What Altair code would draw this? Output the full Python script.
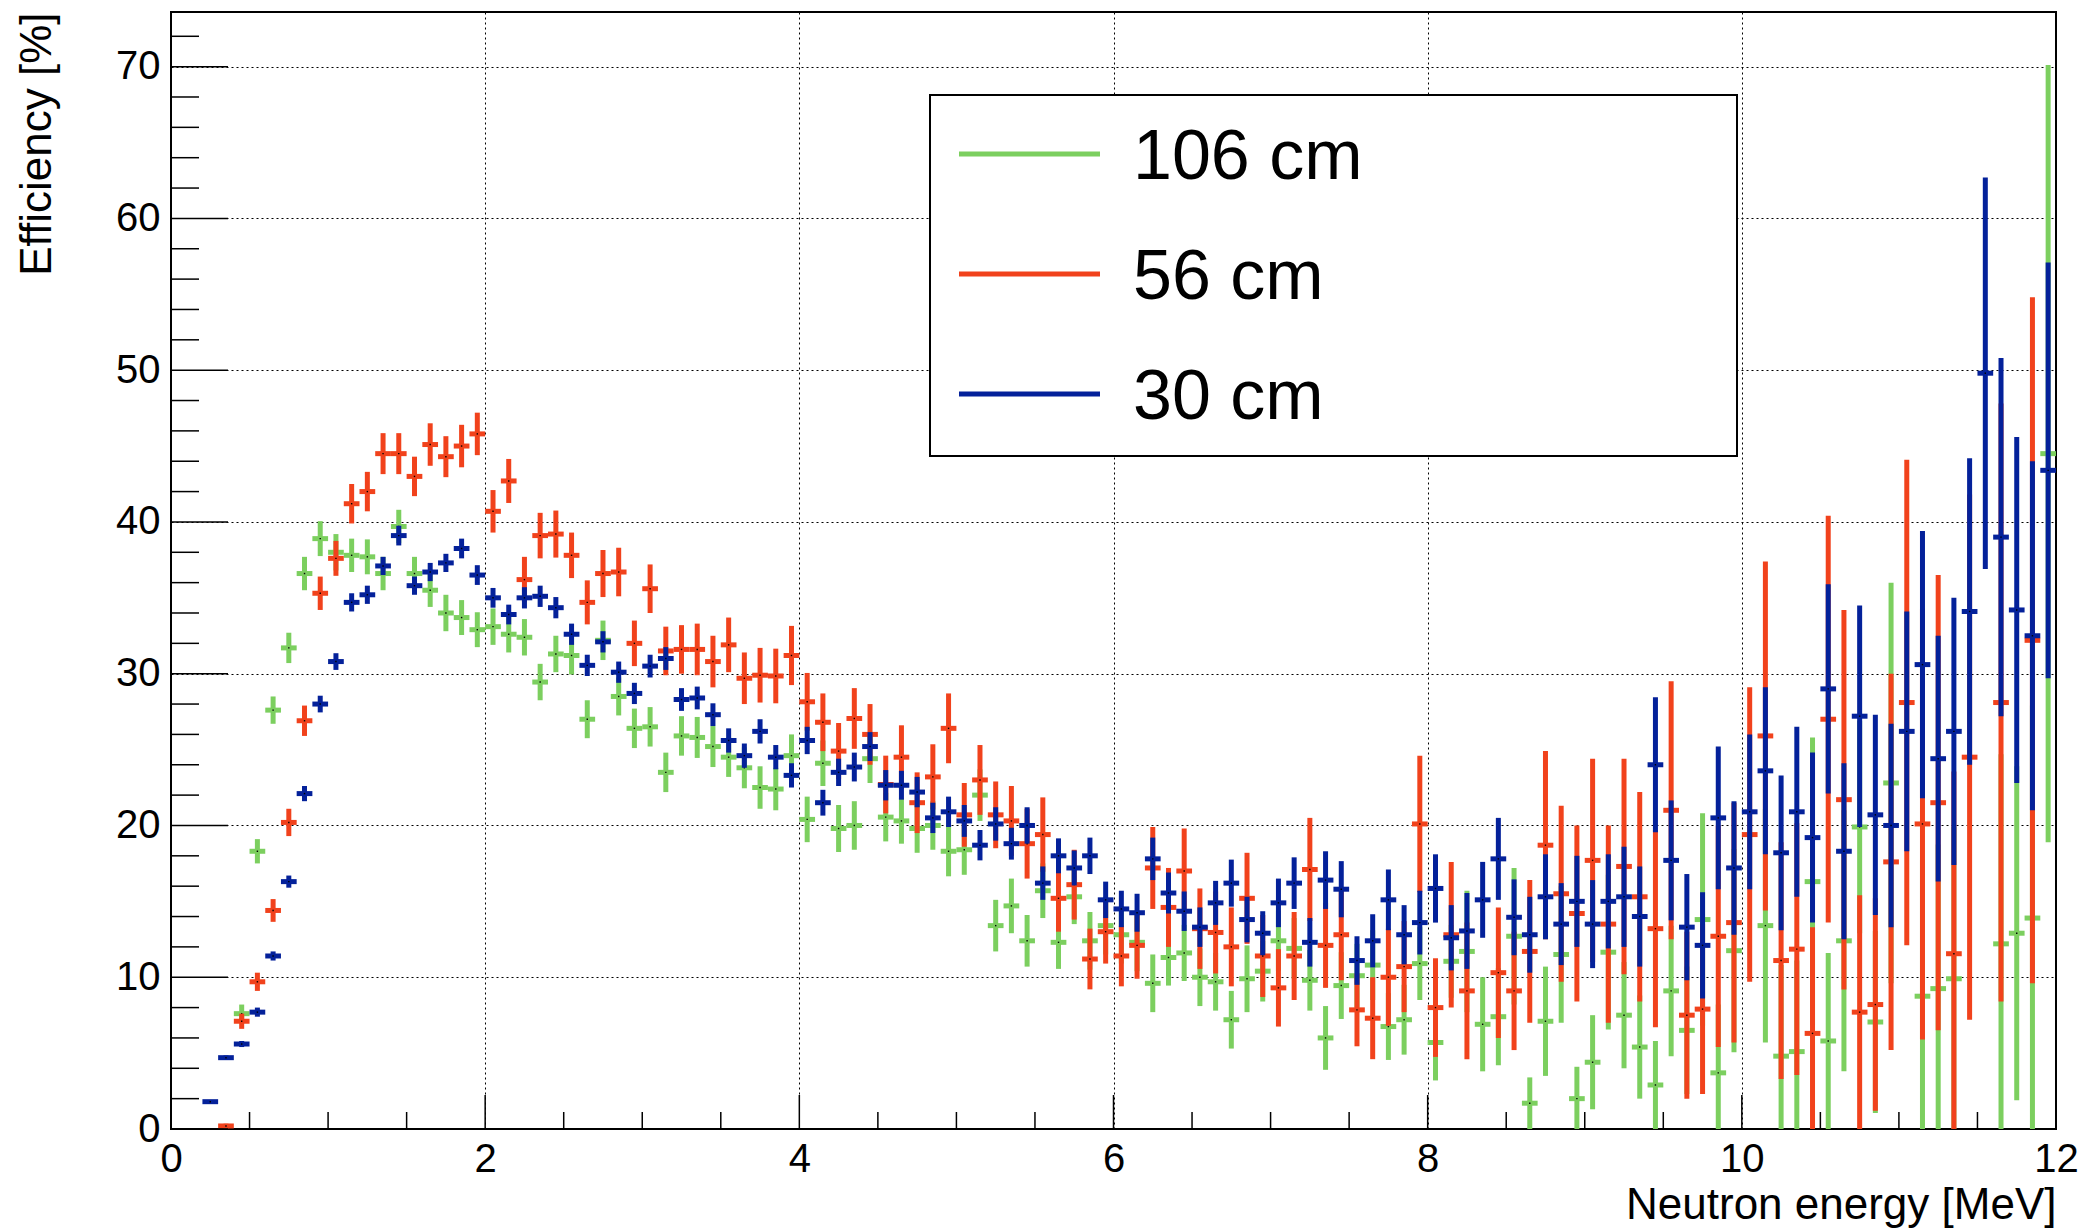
import altair as alt
import pandas as pd

# ---------------- data ----------------
SERIES = ["106 cm", "56 cm", "30 cm"]
COLORS = ["#7ccf5f", "#f1421c", "#04219a"]

# bin centres (0.1 MeV bins from 0 to 12 MeV)
CENTERS = [round(0.05 + 0.1 * i, 2) for i in range(120)]

N = None
Y_106 = [N, N, N, N, 7.6, 18.3, 27.6, 31.7, 36.6, 38.9,
         38.0, 37.8, 37.7, 36.6, 39.7, 36.6, 35.5, 34.0, 33.7, 32.9,
         33.1, 32.6, 32.4, 29.45, 31.3, 31.2, 27.0, 32.2, 28.5, 26.4,
         26.5, 23.5, 25.9, 25.8, 25.2, 24.5, 23.8, 22.5, 22.4, 24.6,
         20.4, 24.1, 19.8, 20.0, 24.4, 20.55, 20.3, 19.8, 20.0, 18.3,
         18.4, 22.0, 13.4, 14.7, 12.4, 15.7, 12.3, 15.3, 12.4, 13.4,
         12.8, 12.3, 9.6, 11.3, 11.6, 10.0, 9.7, 7.2, 9.9, 10.4,
         12.4, 11.9, 9.8, 6.0, 9.45, 10.1, 10.8, 6.75, 7.2, 10.9,
         5.7, 11.05, 11.7, 6.9, 7.4, 12.7, 1.7, 7.1, 11.5, 2.0,
         4.4, 11.65, 7.5, 5.4, 2.9, 9.1, 6.5, 13.8, 3.7, 11.75,
         N, 13.4, 4.8, 5.1, 16.3, 5.8, 12.4, 19.9, 7.05, 22.8,
         N, 8.75, 9.25, 9.9, N, N, 12.2, 12.9, 13.9, 44.5]
E_106 = [N, N, N, N, 0.6, 0.8, 0.9, 1.0, 1.1, 1.15,
         1.2, 1.1, 1.15, 1.1, 1.1, 1.1, 1.1, 1.2, 1.15, 1.15,
         1.2, 1.2, 1.2, 1.2, 1.2, 1.25, 1.25, 1.3, 1.25, 1.3,
         1.3, 1.3, 1.3, 1.35, 1.35, 1.3, 1.35, 1.4, 1.4, 1.4,
         1.5, 1.5, 1.55, 1.6, 1.6, 1.6, 1.5, 1.6, 1.6, 1.65,
         1.65, 1.7, 1.7, 1.8, 1.7, 1.8, 1.75, 1.8, 1.9, 1.9,
         1.9, 1.9, 1.9, 1.85, 1.85, 1.9, 1.9, 1.9, 2.2, 2.0,
         2.0, 2.0, 2.0, 2.1, 2.2, 2.1, 2.3, 2.2, 2.3, 2.4,
         2.5, 2.4, 4.0, 3.1, 3.2, 4.5, 1.7, 3.6, 4.5, 2.1,
         3.1, 5.1, 3.5, 3.4, 2.9, 4.3, 4.2, 7.0, 4.5, 6.7,
         N, 7.7, 6.0, 6.0, 9.5, 5.8, 8.6, 7.0, 6.0, 13.2,
         N, 9.0, 9.5, 10.0, N, N, 12.5, 11.0, 14.0, 25.6]

Y_56 = [N, N, N, 0.2, 7.1, 9.7, 14.4, 20.2, 26.9, 35.3,
        37.6, 41.2, 42.0, 44.5, 44.5, 43.0, 45.1, 44.3, 45.0, 45.8,
        40.7, 42.7, 36.2, 39.1, 39.2, 37.8, 34.7, 36.6, 36.7, 32.0,
        35.6, 31.5, 31.6, 31.6, 30.8, 31.9, 29.7, 29.9, 29.85, 31.2,
        28.15, 26.8, 24.9, 27.05, 26.0, 22.7, 24.5, 21.5, 23.2, 26.4,
        20.7, 23.0, 20.7, 20.3, 18.8, 19.4, 15.2, 16.1, 11.2, 13.0,
        11.4, 12.1, 17.2, 14.6, 17.0, 13.2, 12.95, 12.0, 15.2, 11.4,
        9.3, 11.4, 17.1, 12.1, 12.8, 7.85, 7.3, 10.0, 10.7, 20.1,
        8.0, 12.8, 9.1, N, 10.3, 9.1, 11.7, 18.7, 15.5, 14.2,
        17.7, 13.5, 17.3, 15.3, 13.2, 21.0, 7.5, 7.9, 12.7, 13.6,
        19.4, 25.9, 11.1, 11.85, 6.3, 27.0, 21.7, 7.7, 8.2, 17.6,
        28.1, 20.1, 21.5, 11.55, 24.5, N, 28.1, N, 32.2, N]
E_56 = [N, N, N, 0.15, 0.5, 0.6, 0.75, 0.9, 1.0, 1.1,
        1.15, 1.3, 1.3, 1.35, 1.35, 1.3, 1.4, 1.35, 1.4, 1.4,
        1.4, 1.45, 1.5, 1.5, 1.55, 1.5, 1.45, 1.55, 1.6, 1.5,
        1.6, 1.6, 1.6, 1.7, 1.7, 1.8, 1.7, 1.8, 1.8, 1.95,
        1.9, 1.9, 1.85, 2.0, 2.0, 1.9, 2.1, 2.0, 2.15, 2.3,
        2.1, 2.3, 2.2, 2.3, 2.3, 2.45, 2.2, 2.3, 2.0, 2.1,
        2.0, 2.2, 2.7, 2.6, 2.8, 2.65, 2.7, 2.6, 3.0, 2.7,
        2.55, 2.9, 3.4, 2.8, 3.0, 2.4, 2.7, 3.2, 3.0, 4.5,
        3.25, 4.8, 4.5, N, 4.3, 3.9, 4.7, 6.2, 5.8, 5.8,
        6.7, 6.5, 7.1, 6.9, 6.5, 8.5, 5.5, 5.6, 7.3, 7.9,
        9.7, 11.5, 7.8, 8.3, 7.0, 13.4, 12.5, 7.7, 7.0, 12.4,
        16.0, 14.2, 15.0, 12.0, 17.3, N, 19.7, N, 22.6, N]

Y_30 = [N, N, 1.8, 4.7, 5.6, 7.7, 11.4, 16.3, 22.1, 28.0,
        30.8, 34.7, 35.2, 37.1, 39.1, 35.8, 36.7, 37.3, 38.25, 36.5,
        35.0, 33.9, 35.0, 35.1, 34.35, 32.6, 30.55, 32.1, 30.1, 28.7,
        30.5, 31.0, 28.3, 28.4, 27.3, 25.6, 24.6, 26.2, 24.5, 23.3,
        25.6, 21.5, 23.5, 23.85, 25.2, 22.65, 22.65, 22.2, 20.5, 20.9,
        20.3, 18.7, 20.1, 18.8, 20.0, 16.2, 18.0, 17.2, 18.0, 15.1,
        14.5, 14.25, 17.8, 15.55, 14.35, 13.3, 14.9, 16.2, 13.8, 12.9,
        14.9, 16.2, 12.3, 16.4, 15.8, 11.1, 12.4, 15.1, 12.8, 13.6,
        15.85, 12.6, 13.05, 15.1, 17.8, 13.95, 12.8, 15.3, 13.5, 15.0,
        13.5, 15.0, 15.3, 14.0, 24.0, 17.7, 13.3, 12.1, 20.5, 17.2,
        20.9, 23.6, 18.2, 20.9, 19.2, 29.0, 18.3, 27.2, 20.7, 20.0,
        26.2, 30.6, 24.4, 26.2, 34.1, 49.8, 39.0, 34.2, 32.5, 43.4]
E_30 = [N, N, 0.1, 0.15, 0.2, 0.3, 0.3, 0.4, 0.5, 0.55,
        0.55, 0.6, 0.6, 0.6, 0.65, 0.6, 0.6, 0.6, 0.65, 0.65,
        0.65, 0.65, 0.7, 0.7, 0.7, 0.7, 0.7, 0.7, 0.7, 0.7,
        0.75, 0.75, 0.75, 0.75, 0.75, 0.8, 0.8, 0.8, 0.8, 0.8,
        0.9, 0.85, 0.9, 0.95, 0.95, 1.0, 0.95, 1.0, 1.0, 1.0,
        1.05, 1.0, 1.1, 1.05, 1.2, 1.1, 1.15, 1.15, 1.2, 1.2,
        1.2, 1.25, 1.4, 1.35, 1.3, 1.3, 1.45, 1.55, 1.5, 1.45,
        1.6, 1.7, 1.6, 1.9, 1.85, 1.6, 1.75, 2.0, 1.95, 2.1,
        2.25, 2.15, 2.5, 2.5, 2.7, 2.5, 2.5, 2.8, 2.7, 3.0,
        2.9, 3.1, 3.3, 3.3, 4.45, 3.95, 3.5, 3.5, 4.7, 4.4,
        5.1, 5.5, 5.1, 5.6, 5.6, 6.9, 5.8, 7.3, 6.6, 6.7,
        7.9, 8.8, 8.1, 8.8, 10.1, 12.9, 11.8, 11.4, 11.5, 13.7]

X_LABELS = [0, 2, 4, 6, 8, 10, 12]
Y_LABELS = [0, 10, 20, 30, 40, 50, 60, 70]
X_MINOR = [0.5 * i for i in range(25)]
Y_MINOR = [2 * i for i in range(37)]

X_TITLE = "Neutron energy [MeV]"
Y_TITLE = "Efficiency [%]"

# ---------------- table ----------------
rows = []
for name, ys, es in zip(SERIES, [Y_106, Y_56, Y_30], [E_106, E_56, E_30]):
    for c, v, e in zip(CENTERS, ys, es):
        if v is None:
            continue
        rows.append(dict(series=name, x=c, lo=round(c - 0.05, 3), hi=round(c + 0.05, 3),
                         y=v, ylo=v - e, yhi=v + e))
df = pd.DataFrame(rows)

# ---------------- layout ----------------
W, H = 1885, 1117
FONT = "Liberation Sans"

XS = alt.Scale(domain=[0, 12], nice=False, zero=False)
YS = alt.Scale(domain=[0, 73.6], nice=False, zero=False)
XA = alt.Axis(values=X_LABELS, format="d", labelPadding=10, labelFlush=False,
              labelOverlap=False, titleX=W, titleY=89, titleAlign="right",
              titleBaseline="alphabetic", titleAnchor="end")
YA = alt.Axis(values=Y_LABELS, format="d", labelPadding=11, labelOverlap=False,
              titleAngle=270, titleX=-121, titleY=0, titleAlign="right",
              titleBaseline="alphabetic", titleAnchor="end")


def X(field):
    return alt.X(field, type="quantitative", scale=XS, axis=XA, title=X_TITLE)


def Y(field):
    return alt.Y(field, type="quantitative", scale=YS, axis=YA, title=Y_TITLE)


layers = []
for name, col in zip(SERIES, COLORS):
    base = alt.Chart(df[df.series == name])
    layers.append(base.mark_rule(color=col, strokeWidth=5, clip=True).encode(
        x=X("x"), y=Y("ylo"), y2="yhi"))
    layers.append(base.mark_rule(color=col, strokeWidth=5, clip=True).encode(
        x=X("lo"), x2="hi", y=Y("y")))
    layers.append(base.mark_square(size=2, color="black", opacity=1, clip=True).encode(
        x=X("x"), y=Y("y")))

# inward ticks (ROOT style)
xt = pd.DataFrame({"t": X_MINOR})
xt["len"] = [34 if (t % 2 == 0) else 17 for t in X_MINOR]
yt = pd.DataFrame({"t": Y_MINOR})
layers.append(alt.Chart(xt[xt.len == 17]).mark_rule(color="black", strokeWidth=1.5).encode(
    x=X("t"), y=alt.value(H), y2=alt.value(H - 17)))
layers.append(alt.Chart(xt[xt.len == 34]).mark_rule(color="black", strokeWidth=1.5).encode(
    x=X("t"), y=alt.value(H), y2=alt.value(H - 34)))
layers.append(alt.Chart(yt[yt.t % 10 != 0]).mark_rule(color="black", strokeWidth=1.5).encode(
    y=Y("t"), x=alt.value(0), x2=alt.value(28)))
layers.append(alt.Chart(yt[yt.t % 10 == 0]).mark_rule(color="black", strokeWidth=1.5).encode(
    y=Y("t"), x=alt.value(0), x2=alt.value(57)))

# legend box
one = pd.DataFrame({"a": [0]})
layers.append(alt.Chart(one).mark_rect(fill="white", stroke="black", strokeWidth=2).encode(
    x=alt.value(759), x2=alt.value(1566), y=alt.value(83), y2=alt.value(444)))
for i, (name, col) in enumerate(zip(SERIES, COLORS)):
    ly = 142 + 120 * i
    layers.append(alt.Chart(one).mark_rule(color=col, strokeWidth=5).encode(
        x=alt.value(788), x2=alt.value(929), y=alt.value(ly)))
    layers.append(alt.Chart(one).mark_text(font=FONT, fontSize=70, align="left",
                                           baseline="alphabetic", color="black").encode(
        x=alt.value(962), y=alt.value(ly + 25), text=alt.value(name)))

chart = alt.layer(*layers).properties(
    width=W, height=H,
    autosize=alt.AutoSizeParams(type="none"),
    padding={"left": 171, "top": 12, "right": 36, "bottom": 100},
    background="white",
).configure_view(stroke="black", strokeWidth=2).configure_axis(
    labelFont=FONT, titleFont=FONT, labelFontSize=40, titleFontSize=44,
    titleFontWeight="normal", labelColor="black", titleColor="black",
    grid=True, gridColor="black", gridDash=[2, 3], gridWidth=1, gridOpacity=1,
    domain=False, ticks=False, tickSize=0,
)

chart.save("out.html", embed_options={"renderer": "svg", "actions": False})
